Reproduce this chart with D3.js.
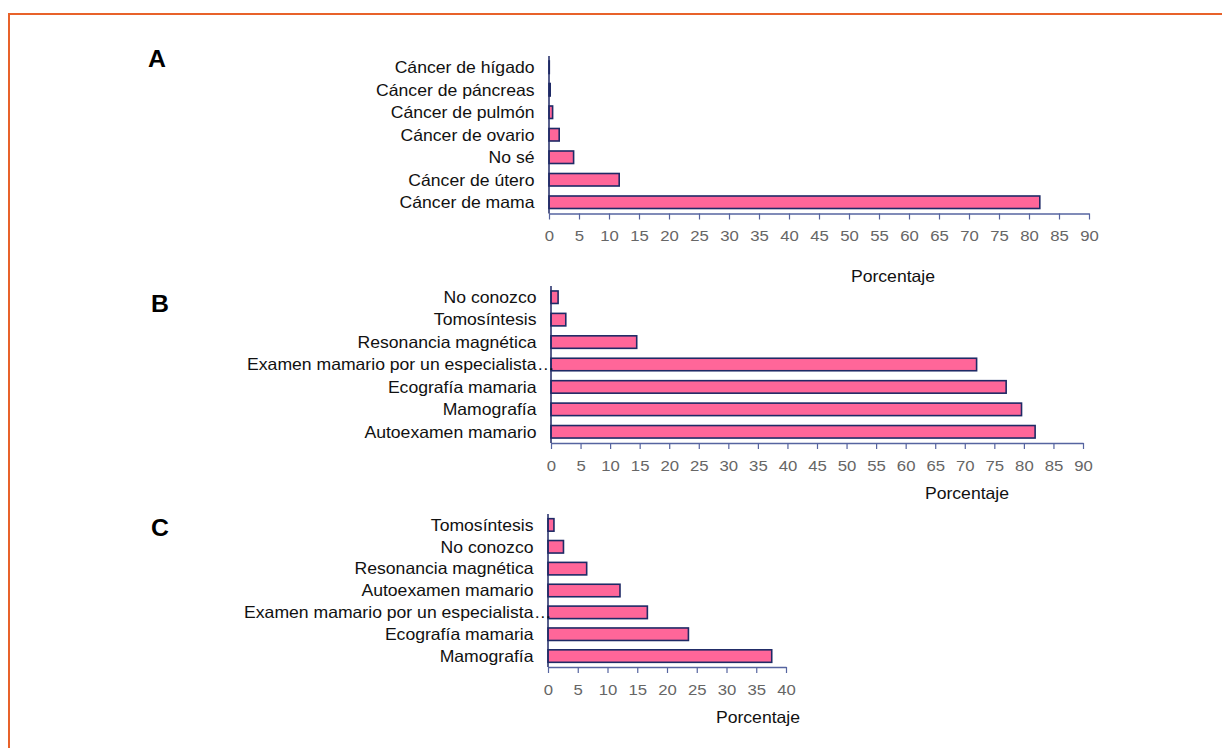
<!DOCTYPE html>
<html>
<head>
<meta charset="utf-8">
<script src="https://cdn.jsdelivr.net/npm/d3@7"></script>
<style>
html,body{margin:0;padding:0;background:#fff;}
svg{display:block;font-family:"Liberation Sans",Arial,sans-serif;}
</style>
</head>
<body>
<svg id="chart" width="1222" height="748"></svg>
<script>
// Panel A
const categoriesA = ["Cáncer de hígado","Cáncer de páncreas","Cáncer de pulmón","Cáncer de ovario","No sé","Cáncer de útero","Cáncer de mama"];
const valuesA = [0.05, 0.2, 0.6, 1.7, 4.1, 11.7, 81.8];
// Panel B
const categoriesB = ["No conozco","Tomosíntesis","Resonancia magnética","Examen mamario por un especialista…","Ecografía mamaria","Mamografía","Autoexamen mamario"];
const valuesB = [1.2, 2.5, 14.5, 72.0, 77.0, 79.6, 81.9];
// Panel C
const categoriesC = ["Tomosíntesis","No conozco","Resonancia magnética","Autoexamen mamario","Examen mamario por un especialista…","Ecografía mamaria","Mamografía"];
const valuesC = [1.0, 2.6, 6.5, 12.1, 16.7, 23.6, 37.6];
const ticksAB = [0,5,10,15,20,25,30,35,40,45,50,55,60,65,70,75,80,85,90];
const ticksC = [0,5,10,15,20,25,30,35,40];
const panelLetters = ["A","B","C"];
const axisTitle = "Porcentaje";

const svg = d3.select("#chart");
const SX = 1.08; // horizontal text stretch of the original

svg.append("path").attr("d","M9,748V14H1222").attr("fill","none")
  .attr("stroke","#E8622A").attr("stroke-width",2);

const panels = [
  {cats:categoriesA, vals:valuesA, ticks:ticksAB, max:90, x0:549, x1:1089, top:56, bottom:213.5,
   letter:[157,67], title:[893,282]},
  {cats:categoriesB, vals:valuesB, ticks:ticksAB, max:90, x0:551, x1:1083, top:286, bottom:443,
   letter:[160,312], title:[967,499]},
  {cats:categoriesC, vals:valuesC, ticks:ticksC, max:40, x0:548, x1:786, top:514, bottom:667,
   letter:[160,536], title:[758,723]}
];

function stretchedText(g, x, y, txt, opts) {
  return g.append("text")
    .attr("transform", `translate(${x},${y}) scale(${SX},1)`)
    .attr("text-anchor", opts.anchor || "start")
    .attr("font-size", opts.size || 16.3)
    .attr("font-weight", opts.weight || "normal")
    .attr("fill", opts.fill || "#111")
    .text(txt);
}

panels.forEach((p, i) => {
  const g = svg.append("g");
  const x = d3.scaleLinear().domain([0, p.max]).range([p.x0, p.x1]);
  const y = d3.scalePoint().domain(p.cats).range([p.top, p.bottom]).padding(0.5);
  const barH = 12.5;

  g.selectAll("rect.bar").data(p.cats).join("rect")
    .attr("class","bar")
    .attr("x", x(0))
    .attr("y", d => y(d) - barH/2)
    .attr("width", (d,j) => Math.max(0, x(p.vals[j]) - x(0)))
    .attr("height", barH)
    .attr("fill", "#FF6699")
    .attr("stroke", "#1F2A66")
    .attr("stroke-width", 1.6);

  const ax = g.append("g").attr("transform", `translate(0,${p.bottom})`)
    .call(d3.axisBottom(x).tickValues(p.ticks).tickSize(6).tickSizeOuter(0).tickFormat(d3.format("d")));
  ax.select(".domain").attr("stroke", "#5664A0").attr("stroke-width", 1.3);
  ax.selectAll(".tick line").attr("stroke", "#5664A0").attr("stroke-width", 1.2);
  ax.selectAll(".tick text")
    .attr("font-family", "Liberation Sans, Arial, sans-serif")
    .attr("font-size", 15.5).attr("fill", "#666666")
    .attr("y", 0).attr("dy", 0)
    .attr("transform", `translate(0,27.5) scale(${SX},1)`);

  g.append("line").attr("x1", x(0)).attr("x2", x(0)).attr("y1", p.top).attr("y2", p.bottom)
    .attr("stroke", "#1F2A66").attr("stroke-width", 1.5);

  const labelX = x(0) - 14.5;
  p.cats.forEach(c => {
    if (c.endsWith("…")) {
      stretchedText(g, labelX, y(c) + 5.8, c.slice(0, -1), {anchor:"end"});
      stretchedText(g, labelX + 0.5, y(c) + 5.8, "…", {anchor:"start"});
    } else {
      stretchedText(g, labelX, y(c) + 5.8, c, {anchor:"end"});
    }
  });

  stretchedText(g, p.letter[0], p.letter[1], panelLetters[i], {anchor:"middle", size:23, weight:"bold", fill:"#000"});
  stretchedText(g, p.title[0], p.title[1], axisTitle, {anchor:"middle", size:16.3, fill:"#111"});
});
</script>
</body>
</html>
